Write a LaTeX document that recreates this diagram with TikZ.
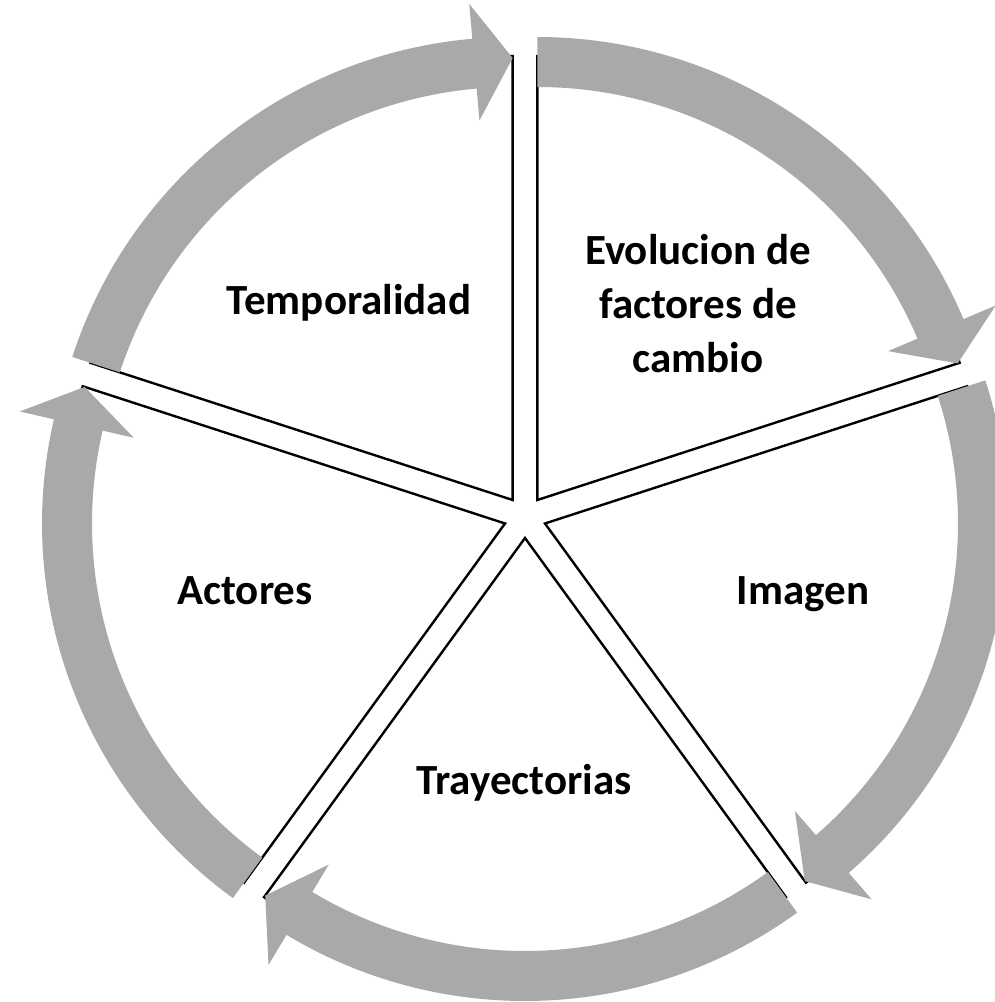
\documentclass[tikz,border=0pt]{standalone}
\usepackage{fontspec}
\setmainfont{Carlito}
\definecolor{arrowgray}{RGB}{169,169,169}
\begin{document}
\begin{tikzpicture}[x=1pt,y=1pt,
  seg/.style={draw=black,line width=2.4pt,fill=white,line join=miter},
  arr/.style={fill=arrowgray,draw=none},
  lbl/.style={font=\bfseries\fontsize{43}{54}\selectfont,align=center,inner sep=0pt}]
\useasboundingbox (0,0) rectangle (995,1002);
\coordinate (C) at (525,485);
% segments
\foreach \s in {90,18,-54,-126,-198}{
  \pgfmathsetmacro\e{\s-72}
  \pgfmathsetmacro\b{\s-36}
  \begin{scope}[shift={(C)},shift={(\b:21pt)}]
    \draw[seg] (0,0) -- (\s:444pt) arc[start angle=\s,end angle=\e,radius=444pt] -- cycle;
  \end{scope}
}
% arrows
\foreach \s in {90,18,-54,-126,-198}{
  \pgfmathsetmacro\e{\s-72}
  \pgfmathsetmacro\b{\s-36}
  \pgfmathsetmacro\h{\e+5}
  \begin{scope}[shift={(C)},shift={(\b:21pt)}]
    \fill[arr] (\s:463pt) arc[start angle=\s,end angle=\h,radius=463pt]
      -- (\h:498pt) -- (\e:442pt) -- (\h:381pt) -- (\h:413pt)
      arc[start angle=\h,end angle=\s,radius=413pt] -- cycle;
  \end{scope}
}
% labels
\node[lbl,anchor=base] (tempo) at (349,687) {Temporalidad};
\node[lbl,anchor=center] (evol) at (698,698) {Evolucion de\\factores de\\cambio};
\node[lbl,anchor=base] (imagen) at (803,397) {Imagen};
\node[lbl,anchor=base] (actores) at (245,397) {Actores};
\node[lbl,anchor=base] (tray) at (524,207) {Trayectorias};
\end{tikzpicture}
\end{document}
